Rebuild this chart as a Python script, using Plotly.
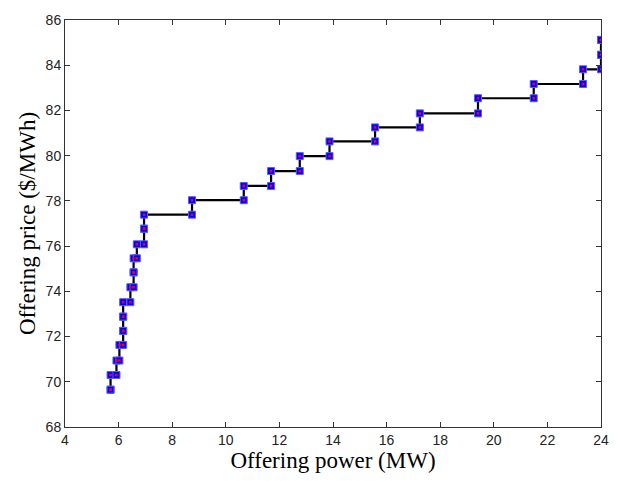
import plotly.graph_objects as go

# price levels ($/MWh) and the power (MW) at which each level ends
price_levels = [69.65, 70.30, 70.94, 71.63, 72.25, 72.88, 73.52, 74.18, 74.84,
                75.46, 76.08, 76.77, 77.39, 78.03, 78.66, 79.32, 79.98, 80.63,
                81.25, 81.87, 82.54, 83.17, 83.82, 84.46, 85.12]
level_end_power = [5.70, 5.92, 6.03, 6.17, 6.17, 6.17, 6.44, 6.56, 6.56,
                   6.68, 6.95, 6.95, 8.74, 10.67, 11.69, 12.76, 13.87, 15.57,
                   17.24, 19.41, 21.49, 23.33, 24.0, 24.0, 24.0]
start_power = 5.70

x_tick_vals = list(range(4, 25, 2))
y_tick_vals = list(range(68, 87, 2))

xs, ys = [], []
prev = start_power
for p, e in zip(price_levels, level_end_power):
    xs += [prev, e]
    ys += [p, p]
    prev = e

fig = go.Figure()
fig.add_trace(go.Scatter(
    x=xs, y=ys, mode="lines+markers",
    line=dict(color="black", width=2.2),
    marker=dict(symbol="square", size=7, color="#0000ff",
                line=dict(color="#5a5aff", width=1)),
    showlegend=False, hoverinfo="skip"))
fig.add_trace(go.Scatter(
    x=xs, y=ys, mode="markers",
    marker=dict(symbol="square", size=2.5, color="#ff0000", line=dict(width=0)),
    showlegend=False, hoverinfo="skip"))

axis_common = dict(
    showline=True, linecolor="#333333", linewidth=1, mirror="ticks",
    ticks="inside", ticklen=5, tickcolor="#333333", tickwidth=1,
    showgrid=False, zeroline=False,
    tickfont=dict(family="Liberation Sans, Arial", size=14, color="#222222"),
)

fig.update_layout(
    width=621, height=481,
    margin=dict(l=65, r=19, t=12, b=52),
    paper_bgcolor="white", plot_bgcolor="white",
    xaxis=dict(range=[4, 24], tickvals=x_tick_vals,
               title=dict(text="Offering power (MW)", standoff=5,
                          font=dict(family="Liberation Serif, Times New Roman", size=23, color="black")),
               **axis_common),
    yaxis=dict(range=[68, 86], tickvals=y_tick_vals,
               title=dict(text="Offering price ($/MWh)", standoff=3,
                          font=dict(family="Liberation Serif, Times New Roman", size=23, color="black")),
               **axis_common),
)

fig.write_html("out.html")
